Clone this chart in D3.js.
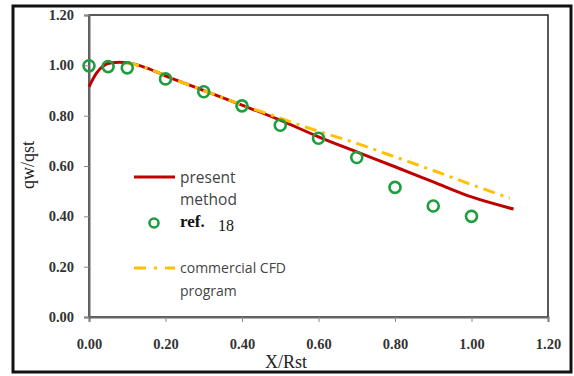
<!DOCTYPE html>
<html>
<head>
<meta charset="utf-8">
<script src="https://cdn.jsdelivr.net/npm/d3@7"></script>
<style>
  body { margin: 0; background: #fff; }
  svg text { font-family: "Liberation Serif", serif; }
</style>
</head>
<body>
<svg id="chart"></svg>
<script>
var width = 574;
var height = 376;

// ref. 18 data points
var refX = [0.00, 0.05, 0.10, 0.20, 0.30, 0.40, 0.50, 0.60, 0.70, 0.80, 0.90, 1.00];
var refY = [0.998, 0.995, 0.99, 0.946, 0.895, 0.839, 0.762, 0.71, 0.634, 0.515, 0.441, 0.40];

// present method curve
var presentX = [0.00, 0.02, 0.04, 0.06, 0.08, 0.10, 0.15, 0.20, 0.30, 0.40, 0.50, 0.60, 0.70, 0.80, 0.90, 1.00, 1.11];
var presentY = [0.915, 0.97, 1.0, 1.01, 1.012, 1.01, 0.99, 0.958, 0.9, 0.842, 0.782, 0.716, 0.656, 0.597, 0.537, 0.477, 0.429];

// commercial CFD program curve
var cfdX = [0.10, 0.15, 0.20, 0.30, 0.40, 0.50, 0.60, 0.70, 0.80, 0.90, 1.00, 1.10];
var cfdY = [1.01, 0.99, 0.958, 0.9, 0.843, 0.79, 0.738, 0.69, 0.636, 0.582, 0.526, 0.472];

var xTicks = [0, 0.2, 0.4, 0.6, 0.8, 1.0, 1.2];
var yTicks = [0, 0.2, 0.4, 0.6, 0.8, 1.0, 1.2];

var svg = d3.select("#chart")
  .attr("width", width)
  .attr("height", height);

// outer frame
svg.append("rect")
  .attr("x", 13).attr("y", 6)
  .attr("width", 558).attr("height", 366)
  .attr("fill", "#fff")
  .attr("stroke", "#111")
  .attr("stroke-width", 3);

var pLeft = 89, pTop = 15, pRight = 548, pBottom = 317;

var x = d3.scaleLinear().domain([0, 1.2]).range([pLeft, pRight]);
var y = d3.scaleLinear().domain([0, 1.2]).range([pBottom, pTop]);

// plot frame
svg.append("rect")
  .attr("x", pLeft).attr("y", pTop)
  .attr("width", pRight - pLeft).attr("height", pBottom - pTop)
  .attr("fill", "none")
  .attr("stroke", "#222")
  .attr("stroke-width", 1.5);

var xAxis = svg.append("g")
  .attr("transform", "translate(0," + pBottom + ")")
  .call(d3.axisBottom(x).tickValues(xTicks).tickSize(5).tickPadding(17)
    .tickFormat(d3.format(".2f")));
xAxis.select(".domain").attr("stroke", "#666").attr("stroke-width", 2);
xAxis.selectAll(".tick line").attr("stroke", "#888");
xAxis.selectAll("text")
  .attr("font-size", 14.5).attr("font-weight", "bold").attr("fill", "#333")
  .style("font-family", "Liberation Serif, serif");

var yAxis = svg.append("g")
  .attr("transform", "translate(" + pLeft + ",0)")
  .call(d3.axisLeft(y).tickValues(yTicks).tickSize(5).tickPadding(10)
    .tickFormat(d3.format(".2f")));
yAxis.select(".domain").attr("stroke", "#666").attr("stroke-width", 2);
yAxis.selectAll(".tick line").attr("stroke", "#888");
yAxis.selectAll("text")
  .attr("font-size", 14.5).attr("font-weight", "bold").attr("fill", "#333")
  .style("font-family", "Liberation Serif, serif");

// axis titles
svg.append("text")
  .attr("x", 286).attr("y", 368)
  .attr("text-anchor", "middle")
  .attr("font-size", 18).attr("fill", "#222")
  .text("X/Rst");

svg.append("text")
  .attr("transform", "translate(34,165) rotate(-90)")
  .attr("text-anchor", "middle")
  .attr("font-size", 18).attr("fill", "#222")
  .text("qw/qst");

var line = d3.line()
  .x(function(d) { return x(d[0]); })
  .y(function(d) { return y(d[1]); })
  .curve(d3.curveMonotoneX);

var presentData = presentX.map(function(v, i) { return [v, presentY[i]]; });
var cfdData = cfdX.map(function(v, i) { return [v, cfdY[i]]; });
var refData = refX.map(function(v, i) { return [v, refY[i]]; });

svg.append("path")
  .datum(presentData)
  .attr("d", line)
  .attr("fill", "none")
  .attr("stroke", "#c00000")
  .attr("stroke-width", 3);

svg.append("path")
  .datum(cfdData)
  .attr("d", line)
  .attr("fill", "none")
  .attr("stroke", "#ffc000")
  .attr("stroke-width", 3)
  .attr("stroke-dasharray", "12,6,3,6");

svg.selectAll("circle.ref")
  .data(refData)
  .enter().append("circle")
  .attr("class", "ref")
  .attr("cx", function(d) { return x(d[0]); })
  .attr("cy", function(d) { return y(d[1]); })
  .attr("r", 5.5)
  .attr("fill", "none")
  .attr("stroke", "#1e9e3e")
  .attr("stroke-width", 2.6);

// legend
var lg = svg.append("g");
lg.append("line")
  .attr("x1", 134).attr("x2", 175).attr("y1", 177).attr("y2", 177)
  .attr("stroke", "#c00000").attr("stroke-width", 3);
lg.append("text").attr("x", 180).attr("y", 183)
  .attr("font-size", 15.5).attr("fill", "#444")
  .style("font-family", "Open Sans, sans-serif")
  .text("present");
lg.append("text").attr("x", 180).attr("y", 205)
  .attr("font-size", 15.5).attr("fill", "#444")
  .style("font-family", "Open Sans, sans-serif")
  .text("method");

lg.append("circle")
  .attr("cx", 154).attr("cy", 223).attr("r", 4.5)
  .attr("fill", "none").attr("stroke", "#1e9e3e").attr("stroke-width", 2.6);
lg.append("text").attr("x", 180).attr("y", 227)
  .attr("font-size", 17).attr("font-weight", "bold").attr("fill", "#111")
  .text("ref.");
lg.append("text").attr("x", 218).attr("y", 231)
  .attr("font-size", 16).attr("fill", "#111")
  .text("18");

lg.append("line")
  .attr("x1", 134).attr("x2", 175).attr("y1", 268).attr("y2", 268)
  .attr("stroke", "#ffc000").attr("stroke-width", 3)
  .attr("stroke-dasharray", "12,8,3,8");
lg.append("text").attr("x", 180).attr("y", 273)
  .attr("font-size", 14).attr("fill", "#444")
  .style("font-family", "Open Sans, sans-serif")
  .text("commercial CFD");
lg.append("text").attr("x", 180).attr("y", 296)
  .attr("font-size", 14).attr("fill", "#444")
  .style("font-family", "Open Sans, sans-serif")
  .text("program");
</script>
</body>
</html>
